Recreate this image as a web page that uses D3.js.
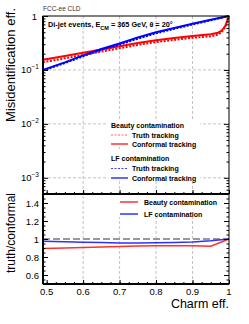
<!DOCTYPE html>
<html>
<head>
<meta charset="utf-8">
<script src="https://cdn.jsdelivr.net/npm/d3@7"></script>
<style>
  body { margin: 0; background: #fff; }
  svg { display: block; font-family: "Liberation Sans", Arial, sans-serif; }
</style>
</head>
<body>
<svg id="chart"></svg>
<script>
// charm efficiency vs misidentification (top) and truth/conformal ratio (bottom)
const charmEff        = [0.49, 0.55, 0.6, 0.65, 0.7, 0.75, 0.8, 0.85, 0.9, 0.95, 0.97, 0.98, 0.99, 1.0];
const beautyConformal = [0.155, 0.182, 0.209, 0.24, 0.275, 0.316, 0.355, 0.39, 0.427, 0.457, 0.49, 0.537, 0.66, 1.0];
const beautyTruth     = [0.139, 0.164, 0.189, 0.219, 0.252, 0.291, 0.328, 0.361, 0.395, 0.42, 0.45, 0.5, 0.63, 1.0];
const lfConformal     = [0.1, 0.138, 0.186, 0.245, 0.309, 0.398, 0.5, 0.6, 0.72, 0.85, 0.91, 0.94, 0.97, 1.0];
const lfTruth         = [0.0975, 0.134, 0.179, 0.235, 0.295, 0.38, 0.479, 0.577, 0.697, 0.833, 0.896, 0.93, 0.965, 1.0];

const ratioEff    = [0.49, 0.55, 0.6, 0.65, 0.7, 0.75, 0.8, 0.85, 0.9, 0.95, 1.0];
const beautyRatio = [0.895, 0.9, 0.905, 0.912, 0.918, 0.922, 0.925, 0.925, 0.924, 0.92, 1.0];
const lfRatio     = [0.975, 0.97, 0.965, 0.96, 0.956, 0.955, 0.957, 0.962, 0.968, 0.98, 1.0];

const effTicks   = [0.5, 0.6, 0.7, 0.8, 0.9, 1];
const logTicks   = [1, 0.1, 0.01, 0.001];
const logLabels  = ["1", "-1", "-2", "-3"];
const ratioTicks = [0.6, 0.8, 1, 1.2, 1.4];

let width = 249, height = 324;
let pLeft = 43, pRight = 229, pTop = 16, pMid = 194, pBottom = 284;

let svg = d3.select("#chart").attr("width", width).attr("height", height);

let x = d3.scaleLinear().domain([0.49, 1]).range([pLeft, pRight]);
let y = d3.scaleLog().domain([5e-4, 1]).range([pMid, pTop]);
let yr = d3.scaleLinear().domain([0.5, 1.5]).range([pBottom, pMid]);

let gridColor = "#aaa";

// grids
let grid = svg.append("g").attr("stroke", gridColor).attr("stroke-width", 0.7).attr("stroke-dasharray", "3,2");
effTicks.filter(d => d > 0.5 && d < 1).forEach(d => {
  grid.append("line").attr("x1", x(d)).attr("x2", x(d)).attr("y1", pTop).attr("y2", pBottom);
});
logTicks.filter(d => d < 1).forEach(d => {
  grid.append("line").attr("x1", pLeft).attr("x2", pRight).attr("y1", y(d)).attr("y2", y(d));
});

// legend boxes hide the grid
svg.append("rect").attr("x", 108).attr("y", 119).attr("width", 92).attr("height", 28).attr("fill", "#fff");
svg.append("rect").attr("x", 108).attr("y", 151).attr("width", 92).attr("height", 30).attr("fill", "#fff");
svg.append("rect").attr("x", 118).attr("y", 195).attr("width", 87).attr("height", 22).attr("fill", "#fff");

// reference line at 1
svg.append("line").attr("x1", pLeft).attr("x2", pRight).attr("y1", yr(1)).attr("y2", yr(1))
  .attr("stroke", "#999").attr("stroke-width", 2).attr("stroke-dasharray", "7,3");

// curves
let line = d3.line().x(d => x(d[0])).y(d => y(d[1]));
let rline = d3.line().x(d => x(d[0])).y(d => yr(d[1]));

let curves = [
  { v: beautyConformal, color: "#ff0000", dash: null },
  { v: beautyTruth, color: "#ff0000", dash: "2,1.5" },
  { v: lfTruth, color: "#0000ff", dash: "2,1.5" },
  { v: lfConformal, color: "#0000ff", dash: null }
];
curves.forEach(c => {
  svg.append("path")
    .datum(charmEff.map((e, i) => [e, c.v[i]]))
    .attr("d", line)
    .attr("fill", "none")
    .attr("stroke", c.color)
    .attr("stroke-width", 2)
    .attr("stroke-dasharray", c.dash);
});

svg.append("path").datum(ratioEff.map((e, i) => [e, beautyRatio[i]])).attr("d", rline)
  .attr("fill", "none").attr("stroke", "#ff3030").attr("stroke-width", 1.5);
svg.append("path").datum(ratioEff.map((e, i) => [e, lfRatio[i]])).attr("d", rline)
  .attr("fill", "none").attr("stroke", "#3030ff").attr("stroke-width", 1.5);

// frames
svg.append("rect").attr("x", pLeft).attr("y", pTop).attr("width", pRight - pLeft).attr("height", pBottom - pTop)
  .attr("fill", "none").attr("stroke", "#000").attr("stroke-width", 1);
[[pLeft, pLeft, pTop, pBottom], [pLeft, pRight, pMid, pMid], [pLeft, pRight, pBottom, pBottom]].forEach(l => {
  svg.append("line").attr("x1", l[0]).attr("x2", l[1]).attr("y1", l[2]).attr("y2", l[3])
    .attr("stroke", "#000").attr("stroke-width", 2);
});

// ticks
let minorLog = [];
[0.0001, 0.001, 0.01, 0.1].forEach(dec => {
  for (let k = 2; k <= 9; k++) if (dec * k >= 5e-4) minorLog.push(dec * k);
});
let minorEff = d3.range(0.5, 1.0001, 0.025);
let minorRatio = d3.range(0.5, 1.5001, 0.05);

function tickAxis(axis, tx, ty, vals, size) {
  let g = svg.append("g").attr("transform", `translate(${tx},${ty})`)
    .call(axis.tickValues(vals).tickSize(size).tickFormat(""));
  g.select(".domain").remove();
  g.selectAll("line").attr("stroke", "#000").attr("stroke-width", 1);
}
tickAxis(d3.axisLeft(y), pLeft, 0, logTicks, -5);
tickAxis(d3.axisLeft(y), pLeft, 0, minorLog, -2.5);
tickAxis(d3.axisRight(y), pRight, 0, logTicks, -5);
tickAxis(d3.axisRight(y), pRight, 0, minorLog, -2.5);
tickAxis(d3.axisLeft(yr), pLeft, 0, ratioTicks, -5);
tickAxis(d3.axisLeft(yr), pLeft, 0, minorRatio, -2.5);
tickAxis(d3.axisRight(yr), pRight, 0, ratioTicks, -5);
tickAxis(d3.axisRight(yr), pRight, 0, minorRatio, -2.5);
tickAxis(d3.axisBottom(x), 0, pMid, effTicks, -4);
tickAxis(d3.axisBottom(x), 0, pMid, minorEff, -2);
tickAxis(d3.axisBottom(x), 0, pBottom, effTicks, -4);
tickAxis(d3.axisBottom(x), 0, pBottom, minorEff, -2);

// tick labels
let labFont = 9.5;
logTicks.forEach((d, i) => {
  let t = svg.append("text").attr("x", 39).attr("y", y(d) + 3.5).attr("text-anchor", "end")
    .attr("font-size", labFont);
  if (i === 0) { t.attr("x", 37).text("1"); return; }
  t.append("tspan").text("10");
  t.append("tspan").attr("dy", -4).attr("font-size", 6.5).text("\u2212" + logLabels[i].slice(1));
});
ratioTicks.forEach(d => {
  svg.append("text").attr("x", 39).attr("y", yr(d) + 3.5).attr("text-anchor", "end")
    .attr("font-size", labFont).text(d3.format("~g")(d));
});
effTicks.forEach(d => {
  svg.append("text").attr("x", x(d)).attr("y", 295).attr("text-anchor", "middle")
    .attr("font-size", labFont).text(d3.format("~g")(d));
});

// titles
svg.append("text").attr("x", pRight).attr("y", 308).attr("text-anchor", "end")
  .attr("font-size", 12.5).text("Charm eff.");
svg.append("text").attr("transform", "translate(15,8) rotate(-90)").attr("text-anchor", "end")
  .attr("font-size", 13).text("Misidentification eff.");
svg.append("text").attr("transform", "translate(15,193) rotate(-90)").attr("text-anchor", "end")
  .attr("font-size", 12).text("truth/conformal");

svg.append("text").attr("x", 43).attr("y", 10.5).attr("font-size", 6.5).attr("fill", "#333").text("FCC-ee CLD");

let info = svg.append("text").attr("x", 48).attr("y", 27).attr("font-size", 7.3).attr("font-weight", "bold");
info.append("tspan").text("Di-jet events, E");
info.append("tspan").attr("dy", 2.5).attr("font-size", 5.5).text("CM");
info.append("tspan").attr("dy", -2.5).text(" = 365 GeV, \u03b8 = 20\u00b0");

// legends
let legFont = 7;
function legText(tx, ty, s) {
  svg.append("text").attr("x", tx).attr("y", ty).attr("font-size", legFont).attr("font-weight", "bold").text(s);
}
function legLine(x1, x2, ly, color, dash, w) {
  svg.append("line").attr("x1", x1).attr("x2", x2).attr("y1", ly).attr("y2", ly)
    .attr("stroke", color).attr("stroke-width", w).attr("stroke-dasharray", dash);
}
legText(111, 128, "Beauty contamination");
legLine(111, 128, 135, "#ff6060", "2,1.5", 1);
legText(132, 137.5, "Truth tracking");
legLine(111, 128, 144, "#ff0000", null, 1.2);
legText(132, 146.5, "Conformal tracking");
legText(111, 161, "LF contamination");
legLine(111, 128, 168.5, "#4040ff", "2,1.5", 1);
legText(132, 171, "Truth tracking");
legLine(111, 128, 178, "#0000ff", null, 1.2);
legText(132, 180.5, "Conformal tracking");

legLine(120, 138, 202, "#ff3030", null, 1.5);
legText(144, 205, "Beauty contamination");
legLine(120, 138, 214, "#3030ff", null, 1.5);
legText(144, 216.5, "LF contamination");
</script>
</body>
</html>
